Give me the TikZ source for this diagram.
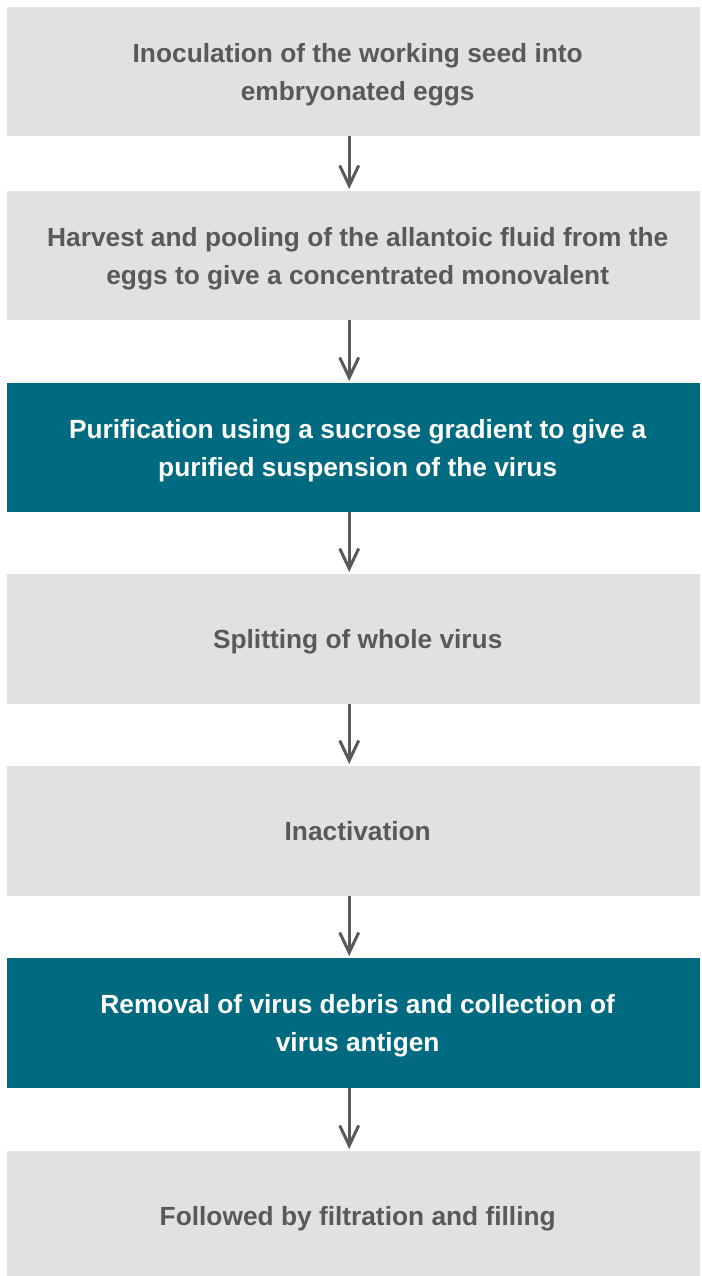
\documentclass[tikz,border=0pt]{standalone}
\usepackage{fontspec}
\setmainfont{Liberation Sans}
\usetikzlibrary{arrows.meta}
\definecolor{boxgray}{HTML}{E1E1E3}
\definecolor{teal}{HTML}{006A80}
\definecolor{txtgray}{HTML}{58595B}
\definecolor{arrgray}{HTML}{58595B}
\tikzset{
  graybox/.style={fill=boxgray, text=txtgray},
  tealbox/.style={fill=teal, text=white},
  stepnode/.style={draw=none, minimum width=693pt, inner sep=0pt, align=center,
    font=\fontsize{26.3}{38}\selectfont\bfseries, anchor=north west},
  steptext/.style={inner sep=0pt, align=center, font=\fontsize{26.3}{38}\selectfont\bfseries},
  flow/.style={draw=arrgray, line width=3pt, -{Straight Barb[length=20pt,width=19pt,line width=3pt]}, shorten >=2pt}
}
\begin{document}
\begin{tikzpicture}[x=1pt,y=-1pt]
\useasboundingbox (0,0) rectangle (701,1276);
\fill[white] (0,0) rectangle (701,1276);
\node[stepnode,graybox,minimum height=129pt] (b1) at (7,7) {};
\node[stepnode,graybox,minimum height=129pt] (b2) at (7,191) {};
\node[stepnode,tealbox,minimum height=129pt] (b3) at (7,383) {};
\node[stepnode,graybox,minimum height=130pt] (b4) at (7,574) {};
\node[stepnode,graybox,minimum height=130pt] (b5) at (7,766) {};
\node[stepnode,tealbox,minimum height=130pt] (b6) at (7,958) {};
\node[stepnode,graybox,minimum height=125pt] (b7) at (7,1151) {};
\node[steptext,text=txtgray] (t1) at ([shift={(4pt,-3pt)}]b1.center) {Inoculation of the working seed into\\embryonated eggs};
\node[steptext,text=txtgray] (t2) at ([shift={(4pt,-3pt)}]b2.center) {Harvest and pooling of the allantoic fluid from the\\eggs to give a concentrated monovalent};
\node[steptext,text=white] (t3) at ([shift={(4pt,-3pt)}]b3.center) {Purification using a sucrose gradient to give a\\purified suspension of the virus};
\node[steptext,text=txtgray] (t4) at ([shift={(4pt,-3pt)}]b4.center) {Splitting of whole virus};
\node[steptext,text=txtgray] (t5) at ([shift={(4pt,0pt)}]b5.center) {Inactivation};
\node[steptext,text=white] (t6) at ([shift={(4pt,-3pt)}]b6.center) {Removal of virus debris and collection of\\virus antigen};
\node[steptext,text=txtgray] (t7) at ([shift={(4pt,-5pt)}]b7.center) {Followed by filtration and filling};
\foreach \a/\b in {b1/b2,b2/b3,b3/b4,b4/b5,b5/b6,b6/b7}{
  \draw[flow] ([xshift=-4.5pt]\a.south) -- ([xshift=-4.5pt]\b.north);
}
\end{tikzpicture}
\end{document}
